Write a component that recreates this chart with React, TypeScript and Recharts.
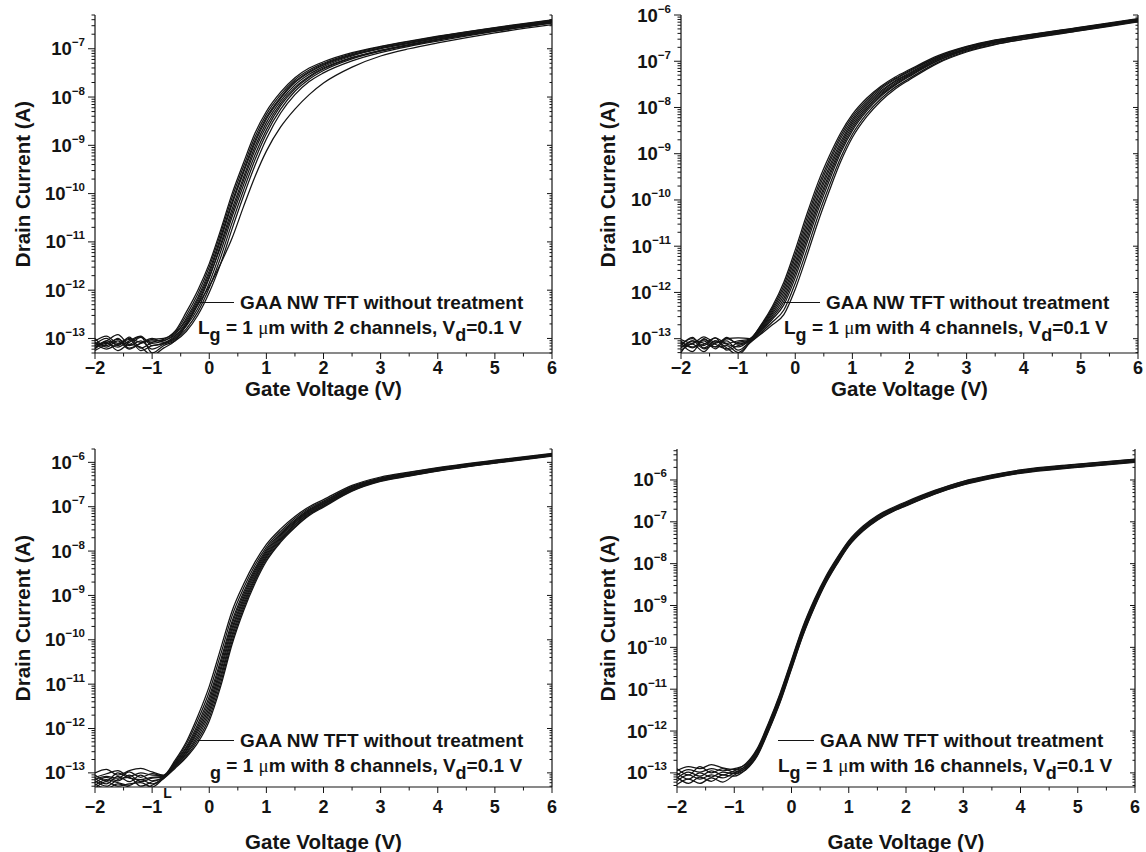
import React from 'react'
import { LineChart, Line, XAxis, YAxis, Legend, Label } from 'recharts'

// gate voltage sweep (V)
const gateVoltage = [-2, -1.8, -1.6, -1.4, -1.2, -1, -0.8, -0.6, -0.4, -0.2, 0, 0.2, 0.4, 0.6, 0.8, 1, 1.25, 1.5, 1.75, 2, 2.5, 3, 3.5, 4, 5, 6]

// drain current, stored as log10(I / A), one row per device
const twoChannelLog = [
  [-13.05, -12.95, -13.1, -13.0, -13.08, -13.02, -13.0, -12.85, -12.45, -12.0, -11.45, -10.75, -10.0, -9.36, -8.75, -8.3, -7.9, -7.6, -7.4, -7.27, -7.08, -6.95, -6.84, -6.74, -6.56, -6.4],
  [-13.15, -13.05, -12.92, -13.12, -12.98, -13.1, -13.05, -12.92, -12.58, -12.15, -11.6, -10.9, -10.17, -9.52, -8.9, -8.42, -8.0, -7.68, -7.47, -7.32, -7.12, -6.98, -6.87, -6.76, -6.58, -6.42],
  [-13.2, -13.1, -13.18, -13.05, -12.95, -13.15, -13.1, -12.98, -12.7, -12.3, -11.75, -11.05, -10.32, -9.66, -9.03, -8.53, -8.08, -7.75, -7.53, -7.37, -7.15, -7.0, -6.89, -6.78, -6.6, -6.43],
  [-13.0, -13.18, -13.05, -13.22, -13.1, -13.0, -13.08, -12.95, -12.66, -12.25, -11.72, -11.1, -10.4, -9.73, -9.1, -8.6, -8.13, -7.8, -7.57, -7.4, -7.18, -7.03, -6.91, -6.8, -6.61, -6.44],
  [-13.12, -13.0, -13.15, -12.97, -13.2, -13.08, -13.02, -12.88, -12.52, -12.08, -11.52, -10.82, -10.08, -9.44, -8.83, -8.36, -7.95, -7.64, -7.44, -7.3, -7.1, -6.96, -6.85, -6.75, -6.57, -6.41],
  [-13.25, -13.12, -13.02, -13.15, -13.05, -13.22, -13.12, -13.02, -12.8, -12.45, -11.95, -11.32, -10.6, -9.93, -9.3, -8.76, -8.25, -7.88, -7.63, -7.45, -7.21, -7.05, -6.93, -6.82, -6.63, -6.46],
  [-13.1, -13.22, -13.12, -13.08, -12.96, -13.3, -13.15, -13.05, -12.85, -12.52, -12.05, -11.45, -10.73, -10.05, -9.42, -8.87, -8.33, -7.95, -7.68, -7.5, -7.25, -7.08, -6.95, -6.84, -6.64, -6.47],
  [-13.18, -13.08, -13.25, -13.12, -13.18, -13.35, -13.2, -13.05, -12.72, -12.3, -11.92, -11.45, -10.92, -10.27, -9.65, -9.12, -8.62, -8.25, -7.95, -7.71, -7.38, -7.15, -7.0, -6.88, -6.67, -6.5],
  [-13.08, -13.15, -13.0, -13.2, -13.1, -13.05, -13.04, -12.9, -12.62, -12.2, -11.66, -10.96, -10.22, -9.57, -8.95, -8.46, -8.03, -7.7, -7.49, -7.34, -7.13, -6.99, -6.88, -6.77, -6.59, -6.42],
  [-13.22, -13.05, -13.12, -13.02, -13.25, -13.15, -13.1, -13.0, -12.74, -12.38, -11.85, -11.2, -10.48, -9.82, -9.2, -8.68, -8.18, -7.83, -7.59, -7.42, -7.19, -7.04, -6.92, -6.81, -6.62, -6.45]
]

const fourChannelLog = [
  [-13.02, -13.1, -12.96, -13.08, -13.0, -12.98, -13.0, -12.7, -12.3, -11.78, -11.08, -10.32, -9.62, -9.04, -8.54, -8.15, -7.8, -7.54, -7.34, -7.18, -6.88, -6.68, -6.54, -6.44, -6.26, -6.08],
  [-13.12, -13.0, -13.15, -12.98, -13.1, -13.05, -13.01, -12.72, -12.34, -11.85, -11.17, -10.41, -9.71, -9.12, -8.6, -8.2, -7.84, -7.57, -7.37, -7.2, -6.9, -6.69, -6.55, -6.45, -6.27, -6.09],
  [-13.2, -13.05, -13.1, -13.18, -12.97, -13.12, -13.02, -12.74, -12.38, -11.92, -11.25, -10.5, -9.79, -9.19, -8.66, -8.25, -7.88, -7.6, -7.39, -7.22, -6.91, -6.7, -6.56, -6.46, -6.28, -6.09],
  [-13.05, -13.2, -13.02, -13.12, -13.22, -13.08, -13.03, -12.76, -12.42, -11.99, -11.34, -10.59, -9.88, -9.27, -8.73, -8.3, -7.92, -7.64, -7.42, -7.25, -6.93, -6.72, -6.57, -6.47, -6.28, -6.1],
  [-13.15, -12.97, -13.2, -13.05, -13.12, -13.18, -13.04, -12.78, -12.46, -12.06, -11.42, -10.68, -9.96, -9.34, -8.79, -8.35, -7.96, -7.67, -7.44, -7.27, -6.94, -6.73, -6.58, -6.48, -6.29, -6.11],
  [-13.25, -13.1, -13.05, -13.22, -13.0, -13.1, -13.05, -12.8, -12.5, -12.13, -11.5, -10.77, -10.05, -9.42, -8.85, -8.4, -8.0, -7.7, -7.47, -7.29, -6.96, -6.74, -6.59, -6.48, -6.3, -6.12],
  [-13.08, -13.18, -13.12, -12.98, -13.25, -13.15, -13.06, -12.82, -12.54, -12.2, -11.59, -10.86, -10.13, -9.49, -8.91, -8.45, -8.04, -7.73, -7.5, -7.31, -6.98, -6.75, -6.6, -6.49, -6.31, -6.12],
  [-13.3, -13.05, -13.22, -13.1, -13.05, -13.25, -13.07, -12.84, -12.58, -12.27, -11.68, -10.95, -10.22, -9.57, -8.97, -8.5, -8.08, -7.76, -7.52, -7.33, -6.99, -6.76, -6.61, -6.5, -6.32, -6.13],
  [-13.1, -13.28, -13.0, -13.18, -13.15, -13.3, -13.09, -12.87, -12.64, -12.38, -11.8, -11.09, -10.34, -9.68, -9.07, -8.58, -8.14, -7.81, -7.56, -7.37, -7.02, -6.78, -6.63, -6.52, -6.33, -6.14],
  [-13.18, -13.12, -13.28, -13.05, -13.2, -13.35, -13.1, -12.9, -12.7, -12.48, -11.93, -11.22, -10.47, -9.79, -9.16, -8.65, -8.2, -7.86, -7.6, -7.4, -7.04, -6.8, -6.64, -6.53, -6.34, -6.15]
]

const eightChannelLog = [
  [-13.0, -12.92, -13.05, -12.95, -12.9, -12.98, -13.05, -12.72, -12.3, -11.72, -11.05, -10.2, -9.35, -8.75, -8.25, -7.85, -7.5, -7.22, -7.0, -6.84, -6.52, -6.33, -6.22, -6.12, -5.95, -5.8],
  [-13.1, -13.02, -12.95, -13.08, -13.0, -13.05, -13.06, -12.75, -12.35, -11.81, -11.17, -10.33, -9.46, -8.84, -8.32, -7.91, -7.55, -7.26, -7.03, -6.87, -6.54, -6.35, -6.23, -6.13, -5.96, -5.81],
  [-13.15, -13.08, -13.12, -12.98, -13.1, -13.02, -13.07, -12.77, -12.41, -11.9, -11.28, -10.46, -9.58, -8.93, -8.39, -7.96, -7.59, -7.3, -7.06, -6.89, -6.56, -6.36, -6.25, -6.14, -5.97, -5.82],
  [-13.05, -13.18, -13.0, -13.12, -13.15, -13.1, -13.08, -12.79, -12.44, -11.96, -11.36, -10.54, -9.65, -8.99, -8.44, -8.0, -7.62, -7.32, -7.08, -6.91, -6.57, -6.37, -6.26, -6.15, -5.98, -5.82],
  [-13.22, -13.1, -13.18, -13.05, -13.2, -13.12, -13.09, -12.81, -12.48, -12.02, -11.44, -10.63, -9.73, -9.05, -8.49, -8.04, -7.65, -7.35, -7.1, -6.93, -6.59, -6.38, -6.27, -6.16, -5.99, -5.83],
  [-13.12, -13.25, -13.08, -13.2, -13.05, -13.18, -13.1, -12.83, -12.51, -12.08, -11.52, -10.71, -9.8, -9.11, -8.54, -8.08, -7.68, -7.37, -7.12, -6.94, -6.6, -6.39, -6.27, -6.17, -5.99, -5.84],
  [-13.28, -13.15, -13.22, -13.28, -13.15, -13.25, -13.11, -12.85, -12.55, -12.14, -11.6, -10.8, -9.88, -9.17, -8.59, -8.12, -7.71, -7.4, -7.14, -6.96, -6.61, -6.4, -6.28, -6.18, -6.0, -5.84],
  [-13.18, -13.3, -13.15, -13.1, -13.3, -13.2, -13.11, -12.86, -12.58, -12.2, -11.67, -10.88, -9.95, -9.23, -8.63, -8.15, -7.74, -7.42, -7.16, -6.98, -6.62, -6.41, -6.29, -6.18, -6.01, -5.85],
  [-13.35, -13.2, -13.3, -13.25, -13.22, -13.32, -13.12, -12.88, -12.62, -12.26, -11.75, -10.97, -10.03, -9.29, -8.68, -8.19, -7.77, -7.45, -7.18, -6.99, -6.64, -6.42, -6.3, -6.19, -6.01, -5.85],
  [-13.25, -13.35, -13.25, -13.32, -13.38, -13.28, -13.13, -12.9, -12.65, -12.32, -11.83, -11.05, -10.1, -9.35, -8.73, -8.23, -7.8, -7.47, -7.2, -7.01, -6.65, -6.43, -6.31, -6.2, -6.02, -5.86]
]

const sixteenChannelLog = [
  [-12.95, -12.85, -12.9, -12.8, -12.88, -12.92, -12.78, -12.42, -11.8, -11.1, -10.3, -9.5, -8.85, -8.3, -7.85, -7.45, -7.1, -6.85, -6.67, -6.52, -6.25, -6.03, -5.88, -5.76, -5.62, -5.5],
  [-13.05, -12.92, -12.98, -12.9, -12.95, -12.9, -12.8, -12.45, -11.83, -11.13, -10.33, -9.53, -8.88, -8.33, -7.87, -7.47, -7.12, -6.87, -6.69, -6.54, -6.26, -6.04, -5.89, -5.77, -5.63, -5.51],
  [-12.9, -13.05, -12.85, -13.0, -12.9, -12.98, -12.83, -12.47, -11.86, -11.17, -10.37, -9.57, -8.91, -8.35, -7.9, -7.49, -7.14, -6.88, -6.7, -6.55, -6.28, -6.06, -5.9, -5.78, -5.64, -5.52],
  [-13.12, -12.98, -13.08, -12.95, -13.05, -12.95, -12.85, -12.5, -11.89, -11.2, -10.4, -9.6, -8.94, -8.38, -7.92, -7.51, -7.15, -6.9, -6.72, -6.56, -6.29, -6.07, -5.92, -5.8, -5.66, -5.54],
  [-13.0, -13.15, -13.0, -13.1, -12.98, -13.02, -12.87, -12.53, -11.92, -11.23, -10.43, -9.63, -8.97, -8.4, -7.94, -7.53, -7.17, -6.92, -6.73, -6.58, -6.3, -6.08, -5.93, -5.81, -5.67, -5.55],
  [-13.2, -13.05, -13.15, -13.05, -13.12, -13.0, -12.89, -12.56, -11.95, -11.27, -10.47, -9.67, -9.0, -8.43, -7.96, -7.55, -7.19, -6.93, -6.75, -6.6, -6.32, -6.1, -5.94, -5.82, -5.68, -5.56],
  [-13.1, -13.25, -13.1, -13.2, -13.05, -13.08, -12.92, -12.58, -11.98, -11.3, -10.5, -9.7, -9.03, -8.45, -7.99, -7.57, -7.21, -6.95, -6.76, -6.61, -6.33, -6.11, -5.95, -5.83, -5.69, -5.57],
  [-13.28, -13.15, -13.25, -13.12, -13.22, -13.05, -12.93, -12.6, -12.0, -11.32, -10.52, -9.72, -9.05, -8.47, -8.0, -7.58, -7.22, -6.96, -6.77, -6.62, -6.34, -6.12, -5.96, -5.84, -5.7, -5.58]
]

// axis ticks
const xTicks = [-2, -1.5, -1, -0.5, 0, 0.5, 1, 1.5, 2, 2.5, 3, 3.5, 4, 4.5, 5, 5.5, 6]
const xTickLabels = ['\u22122', '\u22121', '0', '1', '2', '3', '4', '5', '6']
const decadesUpToMinus7 = [-14, -13, -12, -11, -10, -9, -8, -7]
const decadesUpToMinus6 = [-14, -13, -12, -11, -10, -9, -8, -7, -6]

const FONT = '"Liberation Sans", Arial, Helvetica, sans-serif'
const INK = '#141414'

const panels = [
  {
    id: 'two',
    curves: twoChannelLog,
    channels: '2',
    domain: [5e-14, 5e-7],
    decades: decadesUpToMinus7,
    box: { left: 0, top: 0, w: 573, h: 426 },
    plot: { left: 95, top: 15, right: 552, bottom: 353 },
    yTitleX: 22,
    tickDy: 20.5,
    titleDy: 42.5,
    legend: { left: 198, top: 290 },
    lostL: false
  },
  {
    id: 'four',
    curves: fourChannelLog,
    channels: '4',
    domain: [4.9e-14, 1e-6],
    decades: decadesUpToMinus6,
    box: { left: 573, top: 0, w: 573, h: 426 },
    plot: { left: 681, top: 15, right: 1138, bottom: 353 },
    yTitleX: 34,
    tickDy: 20.5,
    titleDy: 42.5,
    legend: { left: 211, top: 290 },
    lostL: false
  },
  {
    id: 'eight',
    curves: eightChannelLog,
    channels: '8',
    domain: [4.8e-14, 2e-6],
    decades: decadesUpToMinus6,
    box: { left: 0, top: 426, w: 573, h: 426 },
    plot: { left: 95, top: 449, right: 552, bottom: 787 },
    yTitleX: 22,
    tickDy: 25.5,
    titleDy: 61.5,
    legend: { left: 198, top: 301.5 },
    lostL: true
  },
  {
    id: 'sixteen',
    curves: sixteenChannelLog,
    channels: '16',
    domain: [4.6e-14, 5.5e-6],
    decades: decadesUpToMinus6,
    box: { left: 573, top: 426, w: 573, h: 426 },
    plot: { left: 677, top: 449, right: 1135, bottom: 787 },
    yTitleX: 34,
    tickDy: 25.5,
    titleDy: 61.5,
    legend: { left: 205, top: 301.5 },
    lostL: false
  }
]

function buildRows(curves: number[][]) {
  return gateVoltage.map((v, i) => {
    const row: Record<string, number> = { v }
    curves.forEach((c, j) => {
      row[`c${j}`] = 10 ** c[i]
    })
    return row
  })
}

function logTicks(domain: number[], decades: number[]): number[] {
  const out: number[] = []
  decades.forEach((n) => {
    for (let k = 1; k <= 9; k++) {
      const v = Number(`${k}e${n}`)
      if (v >= domain[0] * 0.9999 && v <= domain[1] * 1.0001) out.push(v)
    }
  })
  return out
}

function isDecade(v: number): boolean {
  const l = Math.log10(v)
  return Math.abs(l - Math.round(l)) < 1e-6
}

// eslint-disable-next-line @typescript-eslint/no-explicit-any
const LeftTick = (props: any): React.JSX.Element => {
  const { x, y, payload } = props
  const major = isDecade(payload.value)
  const exp = Math.round(Math.log10(payload.value))
  return (
    <g>
      <line x1={x - (major ? 7 : 3.5)} x2={x} y1={y} y2={y} stroke={INK} strokeWidth={1} />
      {major && (
        <text x={x - 10} y={y + 6.5} textAnchor="end" fontFamily={FONT} fontWeight="bold" fontSize={18.5} fill={INK}>
          10
          <tspan dy={-9} fontSize={11.5}>{`\u2212${-exp}`}</tspan>
        </text>
      )}
    </g>
  )
}

// eslint-disable-next-line @typescript-eslint/no-explicit-any
const RightTick = (props: any): React.JSX.Element => {
  const { x, y, payload } = props
  const len = isDecade(payload.value) ? 5 : 2.5
  return <line x1={x - len} x2={x} y1={y} y2={y} stroke={INK} strokeWidth={1} />
}

// eslint-disable-next-line @typescript-eslint/no-explicit-any
const TopTick = (props: any): React.JSX.Element => {
  const { x, y, payload } = props
  const len = Number.isInteger(payload.value) ? 4 : 2.5
  return <line x1={x} x2={x} y1={y} y2={y + len} stroke={INK} strokeWidth={1} />
}

// eslint-disable-next-line @typescript-eslint/no-explicit-any
const BottomTick = (props: any): React.JSX.Element => {
  const { x, y, payload, labelDy, lostL } = props
  const v = payload.value
  const major = Number.isInteger(v)
  return (
    <g>
      <line x1={x} x2={x} y1={y} y2={y + (major ? 6 : 3.5)} stroke={INK} strokeWidth={1} />
      {major && (
        <text x={x} y={y + labelDy} textAnchor="middle" fontFamily={FONT} fontWeight="bold" fontSize={18} fill={INK}>
          {xTickLabels[v + 2]}
        </text>
      )}
      {/* in the 8-channel panel the "L" of L_g slipped down next to the -1 tick */}
      {lostL && v === -1 && (
        <text x={x + 11} y={y + 11} fontFamily={FONT} fontWeight="bold" fontSize={14} fill={INK}>
          L
        </text>
      )}
    </g>
  )
}

const Sub = ({ children }: { children: React.ReactNode }): React.JSX.Element => (
  <span style={{ fontSize: 18, position: 'relative', top: 7 }}>{children}</span>
)

function TreatmentLegend({ channels, lostL }: { channels: string; lostL: boolean }): React.JSX.Element {
  return (
    <div
      style={{
        fontFamily: FONT,
        fontWeight: 700,
        fontSize: 19,
        color: INK,
        lineHeight: '25px',
        whiteSpace: 'nowrap'
      }}
    >
      <div style={{ display: 'flex', alignItems: 'center', height: 25 }}>
        <svg width={36} height={3} style={{ display: 'block' }}>
          <line x1={0} x2={36} y1={1.5} y2={1.5} stroke={INK} strokeWidth={1.2} />
        </svg>
        <span style={{ marginLeft: 6 }}>GAA NW TFT without treatment</span>
      </div>
      <div style={{ height: 25, paddingLeft: lostL ? 12 : 0 }}>
        {lostL ? '' : 'L'}
        <Sub>g</Sub> = 1{' '}
        <span style={{ fontFamily: '"Liberation Serif", serif', fontWeight: 400 }}>μ</span>m with {channels} channels, V
        <Sub>d</Sub>=0.1 V
      </div>
    </div>
  )
}

const axisLine = { stroke: INK, strokeWidth: 1.2 }

// eslint-disable-next-line @typescript-eslint/no-explicit-any
function Panel({ cfg }: { cfg: any }): React.JSX.Element {
  const rows = React.useMemo(() => buildRows(cfg.curves), [cfg])
  const yTicks = logTicks(cfg.domain, cfg.decades)
  const { box, plot } = cfg

  return (
    <div style={{ position: 'absolute', left: box.left, top: box.top, width: box.w, height: box.h }}>
      <LineChart
        width={box.w}
        height={box.h}
        data={rows}
        margin={{ top: plot.top - box.top, right: 0, bottom: 0, left: 0 }}
      >
        <XAxis
          xAxisId="b"
          type="number"
          dataKey="v"
          domain={[-2, 6]}
          allowDataOverflow
          ticks={xTicks}
          interval={0}
          height={box.top + box.h - plot.bottom}
          tickSize={0}
          tickMargin={0}
          tickLine={false}
          axisLine={axisLine}
          tick={(p) => <BottomTick {...p} labelDy={cfg.tickDy} lostL={cfg.lostL} />}
        >
          <Label
            // eslint-disable-next-line @typescript-eslint/no-explicit-any
            content={(p: any) => {
              const vb = p.viewBox || {}
              return (
                <text
                  x={vb.x + vb.width / 2}
                  y={vb.y + cfg.titleDy}
                  textAnchor="middle"
                  fontFamily={FONT}
                  fontWeight="bold"
                  fontSize={20.5}
                  fill={INK}
                >
                  Gate Voltage (V)
                </text>
              )
            }}
          />
        </XAxis>
        <XAxis
          xAxisId="t"
          orientation="top"
          type="number"
          dataKey="v"
          domain={[-2, 6]}
          allowDataOverflow
          ticks={xTicks}
          interval={0}
          height={0}
          tickSize={0}
          tickMargin={0}
          tickLine={false}
          axisLine={axisLine}
          tick={(p) => <TopTick {...p} />}
        />
        <YAxis
          yAxisId="l"
          type="number"
          scale="log"
          domain={cfg.domain}
          allowDataOverflow
          ticks={yTicks}
          interval={0}
          width={plot.left - box.left}
          tickSize={0}
          tickMargin={0}
          tickLine={false}
          axisLine={axisLine}
          tick={(p) => <LeftTick {...p} />}
        >
          <Label
            // eslint-disable-next-line @typescript-eslint/no-explicit-any
            content={(p: any) => {
              const vb = p.viewBox || {}
              const cx = vb.x + cfg.yTitleX
              const cy = vb.y + vb.height / 2
              return (
                <text
                  x={cx}
                  y={cy}
                  transform={`rotate(-90, ${cx}, ${cy})`}
                  textAnchor="middle"
                  dominantBaseline="central"
                  fontFamily={FONT}
                  fontWeight="bold"
                  fontSize={20.5}
                  fill={INK}
                >
                  Drain Current (A)
                </text>
              )
            }}
          />
        </YAxis>
        <YAxis
          yAxisId="r"
          orientation="right"
          type="number"
          scale="log"
          domain={cfg.domain}
          allowDataOverflow
          ticks={yTicks}
          interval={0}
          width={box.left + box.w - plot.right}
          tickSize={0}
          tickMargin={0}
          tickLine={false}
          axisLine={axisLine}
          tick={(p) => <RightTick {...p} />}
        />
        <Legend
          layout="horizontal"
          verticalAlign="middle"
          align="center"
          wrapperStyle={{ left: cfg.legend.left, top: cfg.legend.top, width: 360 }}
          content={() => <TreatmentLegend channels={cfg.channels} lostL={cfg.lostL} />}
        />
        {cfg.curves.map((_: number[], j: number) => (
          <Line
            key={j}
            xAxisId="b"
            yAxisId="l"
            type="monotone"
            dataKey={`c${j}`}
            stroke={INK}
            strokeWidth={1.25}
            dot={false}
            activeDot={false}
            isAnimationActive={false}
            legendType="none"
          />
        ))}
      </LineChart>
    </div>
  )
}

export default function App(): React.JSX.Element {
  return (
    <div style={{ position: 'absolute', left: 0, top: 0, width: 1146, height: 852, background: '#fff' }}>
      {panels.map((cfg) => (
        <Panel key={cfg.id} cfg={cfg} />
      ))}
    </div>
  )
}
